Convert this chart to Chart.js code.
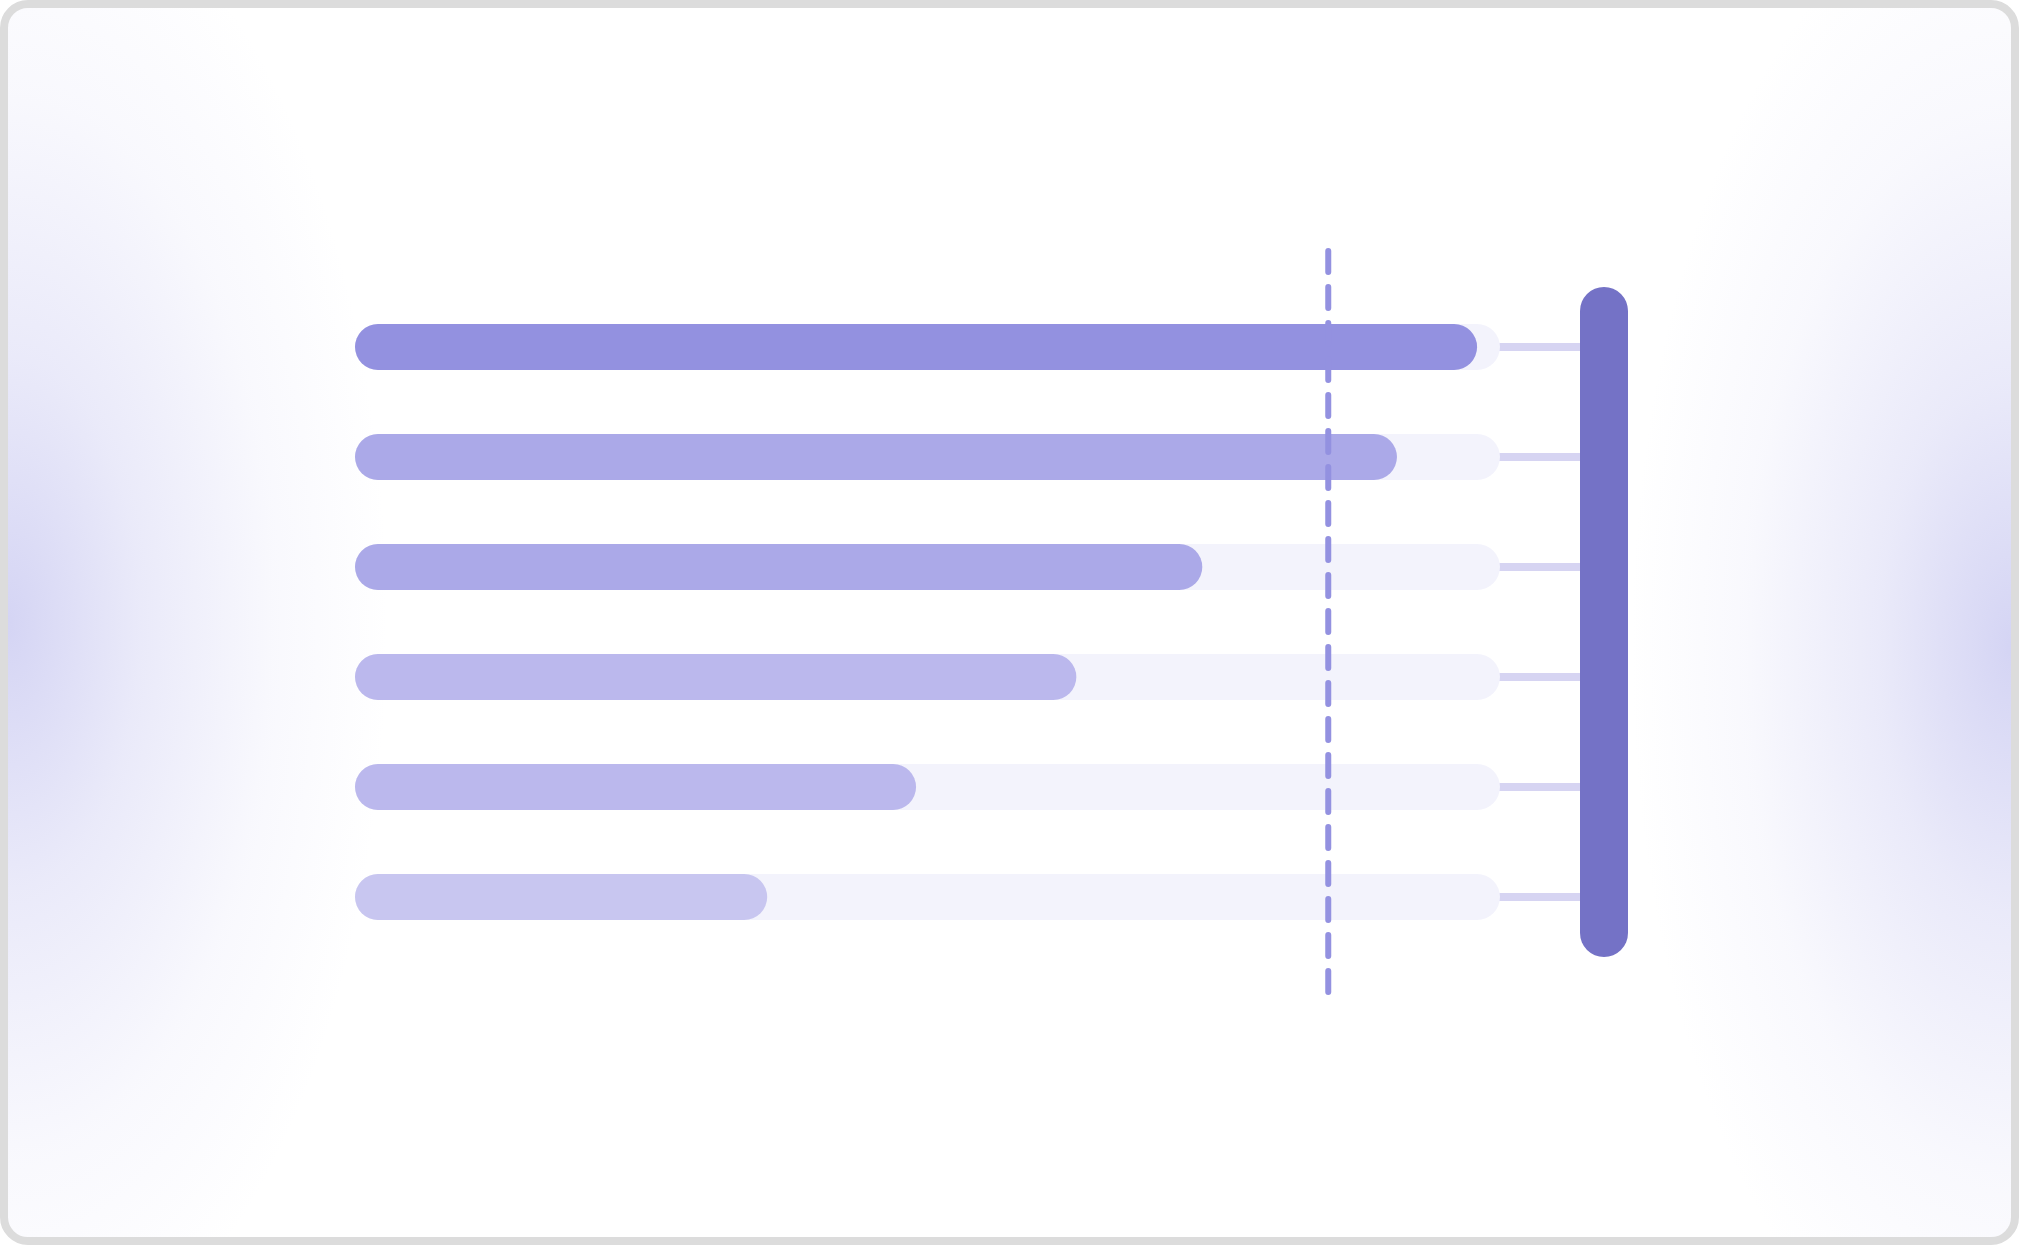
<!DOCTYPE html>
<html>
<head>
<meta charset="utf-8">
<script src="https://cdn.jsdelivr.net/npm/chart.js@4"></script>
<style>
  html, body { margin: 0; padding: 0; background: #ffffff; width: 2019px; height: 1245px; overflow: hidden; }
  #card {
    position: absolute; left: 0; top: 0; width: 2019px; height: 1245px;
    box-sizing: border-box; border: 8px solid #dcdcdc; border-radius: 28px;
    background:
      radial-gradient(ellipse 380px 760px at 0% 50%, rgba(205,205,242,0.85) 0%, rgba(205,205,242,0.42) 35%, rgba(205,205,242,0.13) 70%, rgba(205,205,242,0) 100%),
      radial-gradient(ellipse 380px 760px at 100% 52%, rgba(205,205,242,0.85) 0%, rgba(205,205,242,0.42) 35%, rgba(205,205,242,0.13) 70%, rgba(205,205,242,0) 100%),
      #ffffff;
  }
  #wrap { position: absolute; left: 0; top: 0; width: 2019px; height: 1245px; }
</style>
</head>
<body>
<div id="card"></div>
<div id="wrap"><canvas id="c"></canvas></div>
<script>
// ---- data ----
const stages = ['Step 1', 'Step 2', 'Step 3', 'Step 4', 'Step 5', 'Step 6'];
const values = [98, 91, 74, 63, 49, 36];
const capacity = [100, 100, 100, 100, 100, 100];
const target = 85;
const axisMin = 0;
const axisMax = 100;

// ---- styles ----
const barColors = ['#9391e0', '#aba9e8', '#aba9e8', '#bbb8ed', '#bbb8ed', '#c8c6f0'];
const trackColor = '#f3f3fc';
const connectorColor = '#d6d4f2';
const pillarColor = '#7472c6';
const targetColor = '#9391e0';

const decorPlugin = {
  id: 'decor',
  beforeDatasetsDraw(chart) {
    const ctx = chart.ctx, x = chart.scales.x, y = chart.scales.y;
    const xEnd = x.getPixelForValue(axisMax);
    ctx.save();
    ctx.fillStyle = connectorColor;
    stages.forEach((s, i) => {
      const cy = y.getPixelForValue(i);
      ctx.fillRect(xEnd - 10, cy - 4, 90, 8);
    });
    ctx.restore();
  },
  afterDatasetsDraw(chart) {
    const ctx = chart.ctx, x = chart.scales.x;
    const area = chart.chartArea;
    const xEnd = x.getPixelForValue(axisMax);
    // pillar
    const px = xEnd + 80, pw = 48, top = area.top - 5, bot = area.bottom + 5;
    ctx.save();
    ctx.fillStyle = pillarColor;
    ctx.beginPath();
    ctx.roundRect(px, top, pw, bot - top, pw / 2);
    ctx.fill();
    // target dashed line
    const tx = x.getPixelForValue(target);
    ctx.strokeStyle = targetColor;
    ctx.lineWidth = 6;
    ctx.lineCap = 'round';
    ctx.setLineDash([21, 15]);
    ctx.beginPath();
    ctx.moveTo(tx, area.top - 41);
    ctx.lineTo(tx, area.bottom + 40);
    ctx.stroke();
    ctx.restore();
  }
};

new Chart(document.getElementById('c'), {
  type: 'bar',
  data: {
    labels: stages,
    datasets: [
      {
        data: values,
        backgroundColor: barColors,
        borderRadius: 23,
        borderSkipped: false,
        barThickness: 46,
        inflateAmount: 0,
        clip: false,
        order: 1
      },
      {
        data: capacity,
        backgroundColor: trackColor,
        borderRadius: 23,
        borderSkipped: false,
        barThickness: 46,
        inflateAmount: 0,
        clip: false,
        order: 2
      }
    ]
  },
  options: {
    indexAxis: 'y',
    responsive: true,
    maintainAspectRatio: false,
    animation: false,
    devicePixelRatio: 1,
    layout: { padding: { left: 355, right: 519, top: 292, bottom: 293 } },
    datasets: { bar: { grouped: false } },
    plugins: { legend: { display: false }, tooltip: { enabled: false } },
    scales: {
      x: { display: false, min: axisMin, max: axisMax },
      y: { display: false }
    }
  },
  plugins: [decorPlugin]
});
</script>
</body>
</html>
